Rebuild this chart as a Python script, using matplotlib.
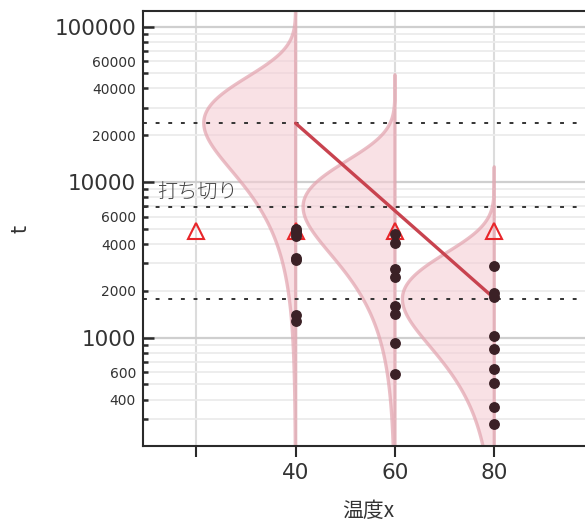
import numpy as np
import matplotlib
matplotlib.use("Agg")
import matplotlib.pyplot as plt
from matplotlib.ticker import FixedLocator, FixedFormatter

plt.rcParams['font.family'] = ['DejaVu Sans', 'Noto Sans CJK JP']

# Test temperatures and Weibull fit per temperature
temps = [40, 60, 80]
eta = [24000, 6930, 1770]          # Weibull scale (mode of log t)
beta = 1.4                          # common Weibull shape
line_end = [23900, 1790]            # fitted life line at 40 and 80

# Failure times per temperature
fail_40 = [5000, 4850, 4710, 4510, 3245, 3163, 1399, 1286]
fail_60 = [4625, 4084, 2755, 2445, 1600, 1422, 920, 585]
fail_80 = [2890, 1945, 1835, 1030, 846, 630, 510, 357, 277]

# Censored (run stopped) units
cens_x = [20, 40, 60, 80]
cens_t = [4850, 4850, 4850, 4850]

xticks = [20, 40, 60, 80]
xtick_labels = ["", "40", "60", "80"]
y_major = [1000, 10000, 100000]
y_minor = [300, 400, 500, 600, 700, 800, 900,
           2000, 3000, 4000, 5000, 6000, 7000, 8000, 9000,
           20000, 30000, 40000, 50000, 60000, 70000, 80000, 90000]
y_minor_labeled = {400, 600, 2000, 4000, 6000, 20000, 40000, 60000}

fig = plt.figure(figsize=(5.85, 5.22), dpi=100)
ax = fig.add_axes([143/585, 76/522, 442/585, 435/522])
ax.set_yscale('log')
ax.set_xlim(9.26, 98.27)
ax.set_ylim(201, 126000)

# grid
ax.set_xticks(xticks)
ax.set_xticklabels(xtick_labels)
ax.yaxis.set_major_locator(FixedLocator(y_major))
ax.yaxis.set_major_formatter(FixedFormatter([str(v) for v in y_major]))
ax.yaxis.set_minor_locator(FixedLocator(y_minor))
ax.yaxis.set_minor_formatter(FixedFormatter(
    [str(v) if v in y_minor_labeled else "" for v in y_minor]))
ax.grid(True, axis='x', which='major', color='#dcdcdc', lw=1.5, zorder=0)
ax.grid(True, axis='y', which='major', color='#cfcfcf', lw=1.6, zorder=0)
ax.grid(True, axis='y', which='minor', color='#ececec', lw=1.3, zorder=0)
ax.set_axisbelow(True)

# Weibull densities of log t, drawn to the left of each temperature
sigma = 1.0 / beta
width = 18.5
z = np.linspace(-7, 2.74, 400)
shape = np.exp(z - np.exp(z) + 1.0)
for x0, e in zip(temps, eta):
    t = e * np.exp(sigma * z)
    xs = np.concatenate([x0 - width * shape, [x0, x0]])
    ys = np.concatenate([t, [t[-1], t[0]]])
    ax.fill(xs, ys, facecolor='#f5cdd4', alpha=0.6, edgecolor='none', zorder=1)
    ax.fill(xs, ys, facecolor='none', edgecolor='#e2a3ae', alpha=0.7,
            lw=2.4, zorder=1.5, joinstyle='round')

# mode lines
for e in eta:
    ax.axhline(e, color='#333333', lw=1.4, ls=(0, (2, 4.5)), zorder=2)

# fitted life line
ax.plot([temps[0], temps[-1]], line_end, color='#c8434f', lw=2.4,
        solid_capstyle='round', zorder=3)

# censored units
ax.plot(cens_x, cens_t, ls='none', marker='^', ms=12, mfc='none',
        mec='#e8262a', mew=1.5, zorder=4)

# failures
for x0, ts in zip(temps, [fail_40, fail_60, fail_80]):
    ax.plot([x0] * len(ts), ts, ls='none', marker='o', ms=6.8,
            color='#3b2126', zorder=5)

ax.text(12.1, 7300, "打ち切り", fontsize=14.5, color='#444444',
        family=['Noto Sans CJK JP'], fontweight='light', va='bottom', ha='left')

# spines and ticks
for side in ['left', 'bottom', 'top']:
    ax.spines[side].set_color('#2a2a2a')
    ax.spines[side].set_linewidth(1.5)
ax.spines['right'].set_visible(False)
ax.tick_params(axis='x', which='major', direction='out', length=8, width=1.5,
               color='#2a2a2a', labelsize=15.5, pad=4, labelcolor='#333333')
ax.tick_params(axis='y', which='major', direction='in', length=8, width=1.8,
               color='#2a2a2a', labelsize=15.5, pad=5, labelcolor='#333333')
ax.tick_params(axis='y', which='minor', direction='in', length=3.6, width=1.8,
               color='#2a2a2a', labelsize=10, pad=5, labelcolor='#333333')

fig.text(20/585, 1 - 229/522, "t", rotation=90, ha='center', va='center',
         fontsize=15, color='#333333')
fig.text(368/585, 1 - 511/522, "温度x", ha='center', va='center',
         fontsize=15, color='#333333', family=['Noto Sans CJK JP', 'DejaVu Sans'])

fig.savefig("out.png", dpi=100)
